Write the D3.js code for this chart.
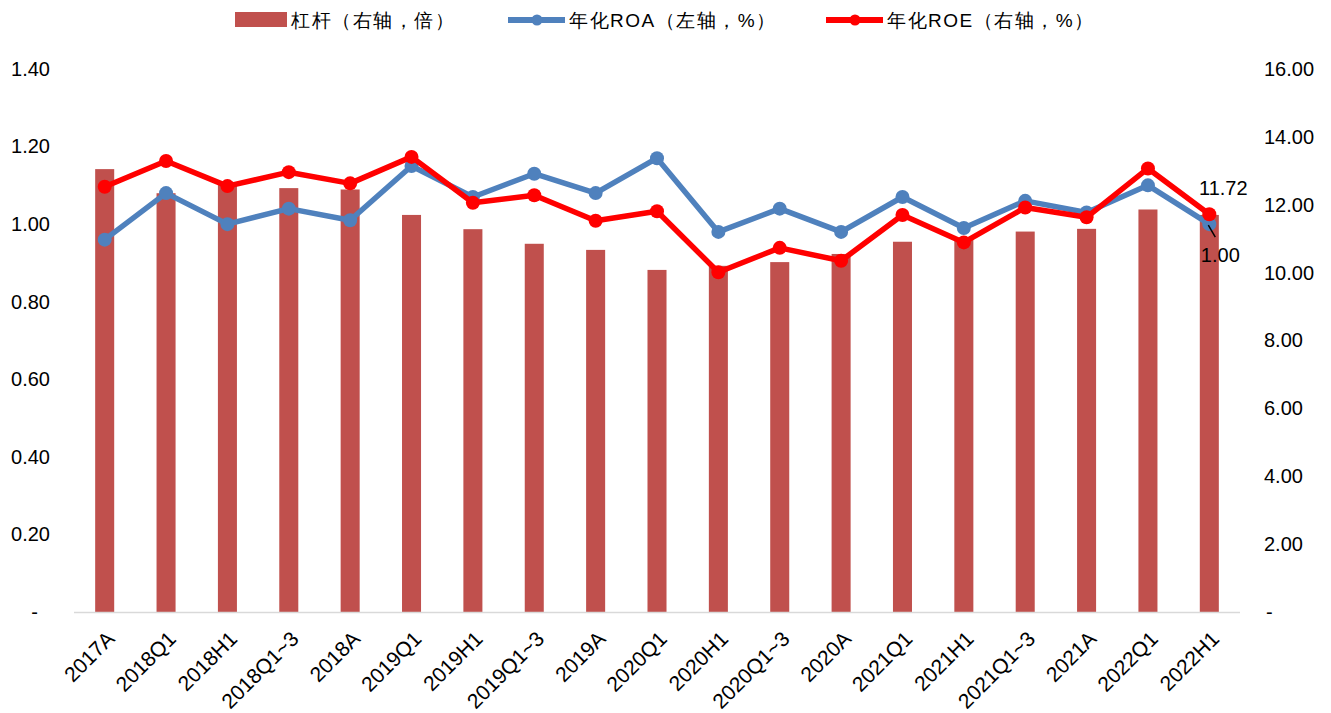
<!DOCTYPE html>
<html>
<head>
<meta charset="utf-8">
<script src="https://cdn.jsdelivr.net/npm/d3@7/dist/d3.min.js"></script>
<style>
body{margin:0;background:#fff;}
text{font-family:"Liberation Sans",Arial,sans-serif;}
</style>
</head>
<body>
<div id="chart"></div>
<script>
////////////////////////////////////////
// data
////////////////////////////////////////

var categories = ['2017A','2018Q1','2018H1','2018Q1~3','2018A','2019Q1','2019H1','2019Q1~3','2019A','2020Q1',
	'2020H1','2020Q1~3','2020A','2021Q1','2021H1','2021Q1~3','2021A','2022Q1','2022H1'];
var leverage = [13.05,12.34,12.58,12.49,12.45,11.70,11.28,10.85,10.67,10.08,10.20,10.31,10.55,10.91,10.98,11.21,11.29,11.86,11.70];
var roa = [0.96,1.08,1.00,1.04,1.01,1.15,1.07,1.13,1.08,1.17,0.98,1.04,0.98,1.07,0.99,1.06,1.03,1.10,1.00];
var roe = [12.53,13.29,12.55,12.96,12.63,13.41,12.06,12.28,11.53,11.81,10.01,10.73,10.35,11.70,10.89,11.92,11.63,13.07,11.72];
var leftTicks = [0,0.2,0.4,0.6,0.8,1.0,1.2,1.4];
var rightTicks = [0,2,4,6,8,10,12,14,16];
var legendNames = ['杠杆（右轴，倍）','年化ROA（左轴，%）','年化ROE（右轴，%）'];

////////////////////////////////////////
// layout
////////////////////////////////////////

var W = 1331, H = 713;
var plotL = 74, plotR = 1240, plotT = 69, plotB = 612;
var barColor = '#c0504d', roaColor = '#4f81bd', roeColor = '#ff0000';

var svg = d3.select('#chart').append('svg')
	.attr('width',W)
	.attr('height',H);

var x = d3.scaleBand().domain(categories).range([plotL,plotR]).padding(0);
var yL = d3.scaleLinear().domain([0,1.4]).range([plotB,plotT]);
var yR = d3.scaleLinear().domain([0,16]).range([plotB,plotT]);
var cx = function(d){ return x(d)+x.bandwidth()/2; };
var barW = x.bandwidth()*0.31;

////////////////////////////////////////
// bars
////////////////////////////////////////

svg.append('g').selectAll('rect')
	.data(categories)
	.enter().append('rect')
	.attr('fill',barColor)
	.attr('x',function(d){ return cx(d)-barW/2; })
	.attr('width',barW)
	.attr('y',function(d,i){ return yR(leverage[i]); })
	.attr('height',function(d,i){ return plotB-yR(leverage[i]); });

// base line
svg.append('line')
	.attr('x1',plotL).attr('x2',plotR)
	.attr('y1',plotB+0.5).attr('y2',plotB+0.5)
	.attr('stroke','#d9d9d9')
	.attr('stroke-width',1.5);

////////////////////////////////////////
// axes
////////////////////////////////////////

var leftAxis = svg.append('g')
	.attr('transform','translate(50,0)')
	.call(d3.axisLeft(yL).tickValues(leftTicks).tickSize(0).tickPadding(0)
		.tickFormat(function(v){ return v===0 ? '-' : v.toFixed(2); }));
leftAxis.select('.domain').remove();
leftAxis.selectAll('text').attr('font-size',20).attr('fill','#000')
	.attr('font-family','"Liberation Sans",Arial,sans-serif')
	.filter(function(v){ return v===0; }).attr('x',-12);

var rightAxis = svg.append('g')
	.attr('transform','translate(1264,0)')
	.call(d3.axisRight(yR).tickValues(rightTicks).tickSize(0).tickPadding(0)
		.tickFormat(function(v){ return v===0 ? '-' : v.toFixed(2); }));
rightAxis.select('.domain').remove();
rightAxis.selectAll('text').attr('font-size',20).attr('fill','#000')
	.attr('font-family','"Liberation Sans",Arial,sans-serif')
	.filter(function(v){ return v===0; }).attr('x',2);

svg.append('g').selectAll('text')
	.data(categories)
	.enter().append('text')
	.attr('transform',function(d){ return 'translate('+(cx(d)+6)+','+(plotB+23)+') rotate(-45)'; })
	.attr('text-anchor','end')
	.attr('dy','0.35em')
	.attr('font-size',21)
	.text(function(d){ return d; });

////////////////////////////////////////
// lines
////////////////////////////////////////

function drawLine(vals,yScale,color){
	var line = d3.line()
		.x(function(d,i){ return cx(categories[i]); })
		.y(function(d){ return yScale(d); });
	svg.append('path')
		.datum(vals)
		.attr('fill','none')
		.attr('stroke',color)
		.attr('stroke-width',5.5)
		.attr('stroke-linejoin','round')
		.attr('d',line);
	svg.append('g').selectAll('circle')
		.data(vals)
		.enter().append('circle')
		.attr('cx',function(d,i){ return cx(categories[i]); })
		.attr('cy',function(d){ return yScale(d); })
		.attr('r',7)
		.attr('fill',color);
}
drawLine(roa,yL,roaColor);
drawLine(roe,yR,roeColor);

// data labels on last point
var last = categories.length-1;
var lx = cx(categories[last]);
svg.append('text')
	.attr('x',lx+14).attr('y',yR(roe[last])-26)
	.attr('dy','0.35em')
	.attr('text-anchor','middle')
	.attr('font-size',20)
	.text(roe[last].toFixed(2));
svg.append('line')
	.attr('x1',lx-1).attr('y1',yL(roa[last])+1)
	.attr('x2',lx+6).attr('y2',yL(roa[last])+13)
	.attr('stroke','#000').attr('stroke-width',1.5);
svg.append('text')
	.attr('x',lx+11).attr('y',yL(roa[last])+31)
	.attr('dy','0.35em')
	.attr('text-anchor','middle')
	.attr('font-size',20)
	.text(roa[last].toFixed(2));

////////////////////////////////////////
// legend
////////////////////////////////////////

var legend = svg.append('g')
	.attr('font-family','"Liberation Sans","Noto Sans CJK SC",sans-serif')
	.attr('font-size',19)
	.attr('letter-spacing',1.5);
legend.append('rect').attr('x',235).attr('y',12).attr('width',52).attr('height',15).attr('fill',barColor);
legend.append('text').attr('x',291).attr('y',20).attr('dy','0.35em').text(legendNames[0]);

[[roaColor,508,legendNames[1]],[roeColor,826,legendNames[2]]].forEach(function(l){
	legend.append('line').attr('x1',l[1]).attr('x2',l[1]+57).attr('y1',20).attr('y2',20)
		.attr('stroke',l[0]).attr('stroke-width',6);
	legend.append('circle').attr('cx',l[1]+29).attr('cy',20).attr('r',5.5).attr('fill',l[0]);
	legend.append('text').attr('x',l[1]+61).attr('y',20).attr('dy','0.35em').text(l[2]);
});
</script>
</body>
</html>
